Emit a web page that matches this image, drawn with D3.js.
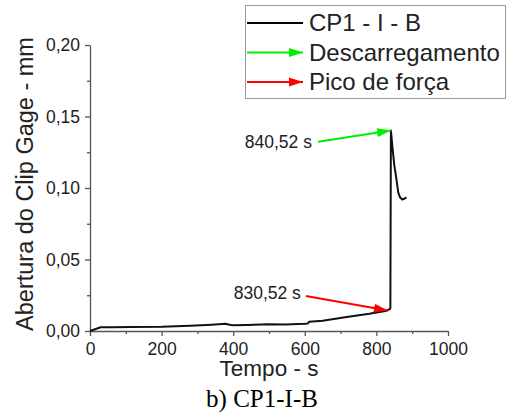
<!DOCTYPE html>
<html lang="pt">
<head>
    <meta charset="UTF-8">
    <title>CP1-I-B</title>
    <style>
        body { margin: 0; background: #fff; }
        svg { display: block; }
        text { font-family: "Liberation Sans", Arial, sans-serif; fill: #222; }
        .axis path, .axis line { stroke: #555; stroke-width: 1.3px; }
        .axis text { font-size: 17.5px; font-family: "Liberation Sans", Arial, sans-serif; fill: #222; }
        .caption { font-family: "Liberation Serif", "Times New Roman", serif; fill: #000; }
    </style>
</head>
<body>
    <svg width="508" height="417"></svg>
    <script src="https://d3js.org/d3.v7.min.js"></script>
    <script>
        // curve (time in s, opening in mm)
        var tempo = [0, 12, 30, 60, 120, 200, 280, 340, 378, 390, 400, 440, 497, 545, 600, 608, 612, 650, 717, 780, 829, 838, 839, 840.52, 845, 850, 856, 861, 866, 872, 878, 884];
        var abertura = [0, 0.001, 0.0026, 0.0027, 0.0028, 0.003, 0.0037, 0.0044, 0.005, 0.0044, 0.004, 0.0042, 0.0048, 0.0046, 0.005, 0.0052, 0.0064, 0.0072, 0.0098, 0.012, 0.0142, 0.0155, 0.0159, 0.1402, 0.128, 0.116, 0.106, 0.097, 0.0935, 0.092, 0.0925, 0.0935];

        var xTicks = [0, 200, 400, 600, 800, 1000];
        var yTicks = [0, 0.05, 0.10, 0.15, 0.20];
        var legendNames = ["CP1 - I - B", "Descarregamento", "Pico de força"];
        var legendColors = ["#000000", "#00ee00", "#ff0000"];

        // annotations: [label, textT, textV, tailT, tailV, tipT, tipV, colour]
        var notes = [
            ["840,52 s", 620, 0.128, 637, 0.1324, 840.52, 0.1402, "#00ee00"],
            ["830,52 s", 589, 0.0224, 603, 0.0245, 832, 0.0143, "#ff0000"]
        ];

        var svg = d3.select("svg");
        var x = d3.scaleLinear().domain([0, 1000]).range([90, 448]);
        var y = d3.scaleLinear().domain([0, 0.20]).range([331, 45]);
        var fmt = function (d) { return d3.format(".2f")(d).replace(".", ","); };

        var defs = svg.append("defs");
        legendColors.slice(1).forEach(function (c, i) {
            defs.append("marker")
                .attr("id", "head" + i)
                .attr("markerUnits", "userSpaceOnUse")
                .attr("viewBox", "0 -5 14 10")
                .attr("refX", 14)
                .attr("refY", 0)
                .attr("markerWidth", 14)
                .attr("markerHeight", 10)
                .attr("orient", "auto")
                .append("path")
                .attr("d", "M0,-4.5L14,0L0,4.5Z")
                .attr("fill", c);
        });

        // minor ticks first, then the major axes on top
        svg.append("g")
            .attr("class", "axis")
            .attr("transform", "translate(0,331)")
            .call(d3.axisBottom(x).tickValues(d3.range(100, 1000, 200)).tickSize(3).tickFormat(""))
            .select(".domain").remove();
        svg.append("g")
            .attr("class", "axis")
            .attr("transform", "translate(90,0)")
            .call(d3.axisLeft(y).tickValues([0.025, 0.075, 0.125, 0.175]).tickSize(3).tickFormat(""))
            .select(".domain").remove();

        svg.append("g")
            .attr("class", "axis")
            .attr("transform", "translate(0,331)")
            .call(d3.axisBottom(x).tickValues(xTicks).tickSize(5).tickSizeOuter(0).tickPadding(7).tickFormat(d3.format("d")));
        svg.append("g")
            .attr("class", "axis")
            .attr("transform", "translate(90,0)")
            .call(d3.axisLeft(y).tickValues(yTicks).tickSize(5).tickSizeOuter(0).tickPadding(5).tickFormat(fmt));

        svg.append("text")
            .attr("x", 269)
            .attr("y", 376)
            .attr("text-anchor", "middle")
            .style("font-size", "22.5px")
            .text("Tempo - s");

        svg.append("text")
            .attr("transform", "translate(33,184) rotate(-90)")
            .attr("text-anchor", "middle")
            .style("font-size", "23.5px")
            .text("Abertura do Clip Gage - mm");

        svg.append("text")
            .attr("class", "caption")
            .attr("x", 262)
            .attr("y", 407)
            .attr("text-anchor", "middle")
            .style("font-size", "25px")
            .text("b) CP1-I-B");

        var line = d3.line()
            .x(function (d, i) { return x(tempo[i]); })
            .y(function (d) { return y(d); });

        svg.append("path")
            .datum(abertura)
            .attr("d", line)
            .attr("fill", "none")
            .attr("stroke", "#111")
            .attr("stroke-width", 2)
            .attr("stroke-linejoin", "round");

        notes.forEach(function (n, i) {
            svg.append("text")
                .attr("x", x(n[1]))
                .attr("y", y(n[2]))
                .attr("text-anchor", "end")
                .style("font-size", "17.5px")
                .text(n[0]);
            svg.append("line")
                .attr("x1", x(n[3])).attr("y1", y(n[4]))
                .attr("x2", x(n[5])).attr("y2", y(n[6]))
                .attr("stroke", n[7])
                .attr("stroke-width", 2)
                .attr("marker-end", "url(#head" + i + ")");
        });

        // legend
        var legend = svg.append("g");
        legend.append("rect")
            .attr("x", 245.5).attr("y", 5.5)
            .attr("width", 260).attr("height", 93)
            .attr("fill", "#fff")
            .attr("stroke", "#999")
            .attr("stroke-width", 1);

        legendNames.forEach(function (name, i) {
            var ly = 23 + i * 29.5;
            var l = legend.append("line")
                .attr("x1", 247).attr("x2", 303)
                .attr("y1", ly).attr("y2", ly)
                .attr("stroke", legendColors[i])
                .attr("stroke-width", 2);
            if (i > 0) l.attr("marker-end", "url(#head" + (i - 1) + ")");
            legend.append("text")
                .attr("x", 309)
                .attr("y", ly + 8)
                .style("font-size", "24px")
                .text(name);
        });
    </script>
</body>
</html>
